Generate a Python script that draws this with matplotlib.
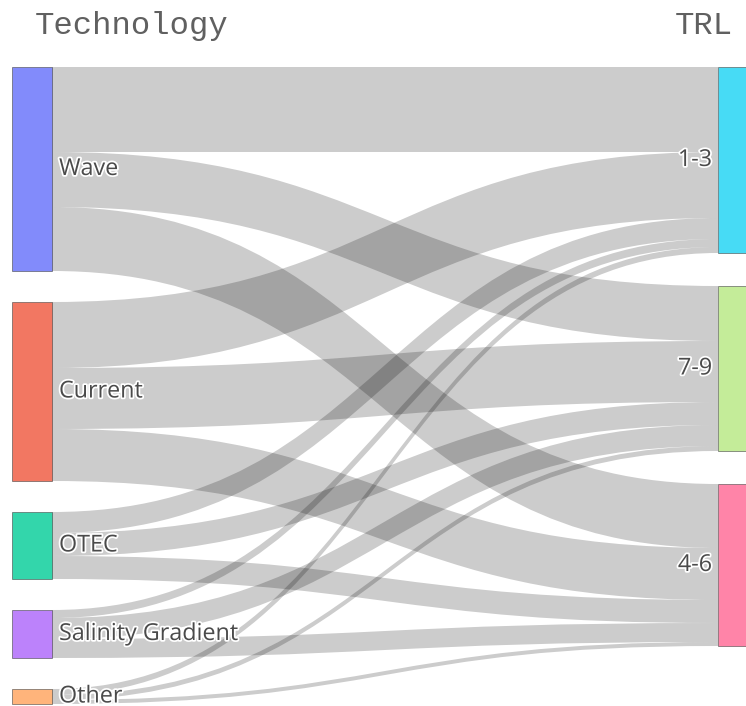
import matplotlib
matplotlib.use("Agg")
import matplotlib.pyplot as plt
import matplotlib.patheffects as pe
from matplotlib.path import Path
from matplotlib.patches import PathPatch, Rectangle

# Sankey data: technology -> TRL band (flow sizes)
sources = ["Wave", "Current", "OTEC", "Salinity Gradient", "Other"]
targets = ["1-3", "7-9", "4-6"]
to_1_3 = [85, 66, 21, 8, 6]
to_7_9 = [55, 61, 23, 21, 5]
to_4_6 = [64, 52, 23, 19, 4]
flows = [to_1_3, to_7_9, to_4_6]  # flows[target][source]

source_colors = ["#636efa", "#EF553B", "#00cc96", "#ab63fa", "#FFA15A"]
target_colors = ["#19d3f3", "#B6E880", "#FF6692"]

# layout (pixels)
W, H = 746, 706
top = 67
scale = 1.0
pad_left, pad_right = 31, 33
x_left, x_right, node_w = 12, 718, 40

fig = plt.figure(figsize=(W / 100, H / 100), dpi=100)
ax = fig.add_axes([0, 0, 1, 1])
ax.set_xlim(0, W)
ax.set_ylim(H, 0)
ax.axis("off")

# node extents
src_tot = [sum(flows[t][s] for t in range(len(targets))) for s in range(len(sources))]
tgt_tot = [sum(flows[t]) for t in range(len(targets))]

src_y = []
y = top
for v in src_tot:
    src_y.append(y)
    y += v * scale + pad_left
tgt_y = []
y = top
for v in tgt_tot:
    tgt_y.append(y)
    y += v * scale + pad_right

# links: ordered by target at the source, by source at the target
src_off = list(src_y)
tgt_off = list(tgt_y)
x0 = x_left + node_w
x1 = x_right
xm = (x0 + x1) / 2
for s in range(len(sources)):
    for t in range(len(targets)):
        v = flows[t][s] * scale
        ys0, yt0 = src_off[s], tgt_off[t]
        ys1, yt1 = ys0 + v, yt0 + v
        verts = [(x0, ys0), (xm, ys0), (xm, yt0), (x1, yt0),
                 (x1, yt1), (xm, yt1), (xm, ys1), (x0, ys1), (x0, ys0)]
        codes = [Path.MOVETO, Path.CURVE4, Path.CURVE4, Path.CURVE4,
                 Path.LINETO, Path.CURVE4, Path.CURVE4, Path.CURVE4, Path.CLOSEPOLY]
        ax.add_patch(PathPatch(Path(verts, codes), facecolor=(0, 0, 0, 0.2),
                               edgecolor="none", lw=0))
        src_off[s] += v
        tgt_off[t] += v

label_fx = [pe.withStroke(linewidth=2.5, foreground="white")]
for s, name in enumerate(sources):
    h = src_tot[s] * scale
    ax.add_patch(Rectangle((x_left, src_y[s]), node_w, h, facecolor=source_colors[s],
                           alpha=0.8, edgecolor="#444444", lw=0.5))
    ax.text(x_left + node_w + 7, src_y[s] + h / 2, name, ha="left", va="center",
            fontsize=16.8, family="Open Sans", color="#4a4a4a", path_effects=label_fx)

for t, name in enumerate(targets):
    h = tgt_tot[t] * scale
    ax.add_patch(Rectangle((x_right, tgt_y[t]), node_w, h, facecolor=target_colors[t],
                           alpha=0.8, edgecolor="#444444", lw=0.5))
    ax.text(x_right - 6, tgt_y[t] + h / 2, name, ha="right", va="center",
            fontsize=16.8, family="Open Sans", color="#4a4a4a", path_effects=label_fx)

# column titles
ax.text(35, 26, "Technology", ha="left", va="center", fontsize=23.2,
        family="Liberation Mono", color="#606060")
ax.text(733, 26, "TRL", ha="right", va="center", fontsize=23.2,
        family="Liberation Mono", color="#606060")

fig.savefig("out.png", dpi=100)
